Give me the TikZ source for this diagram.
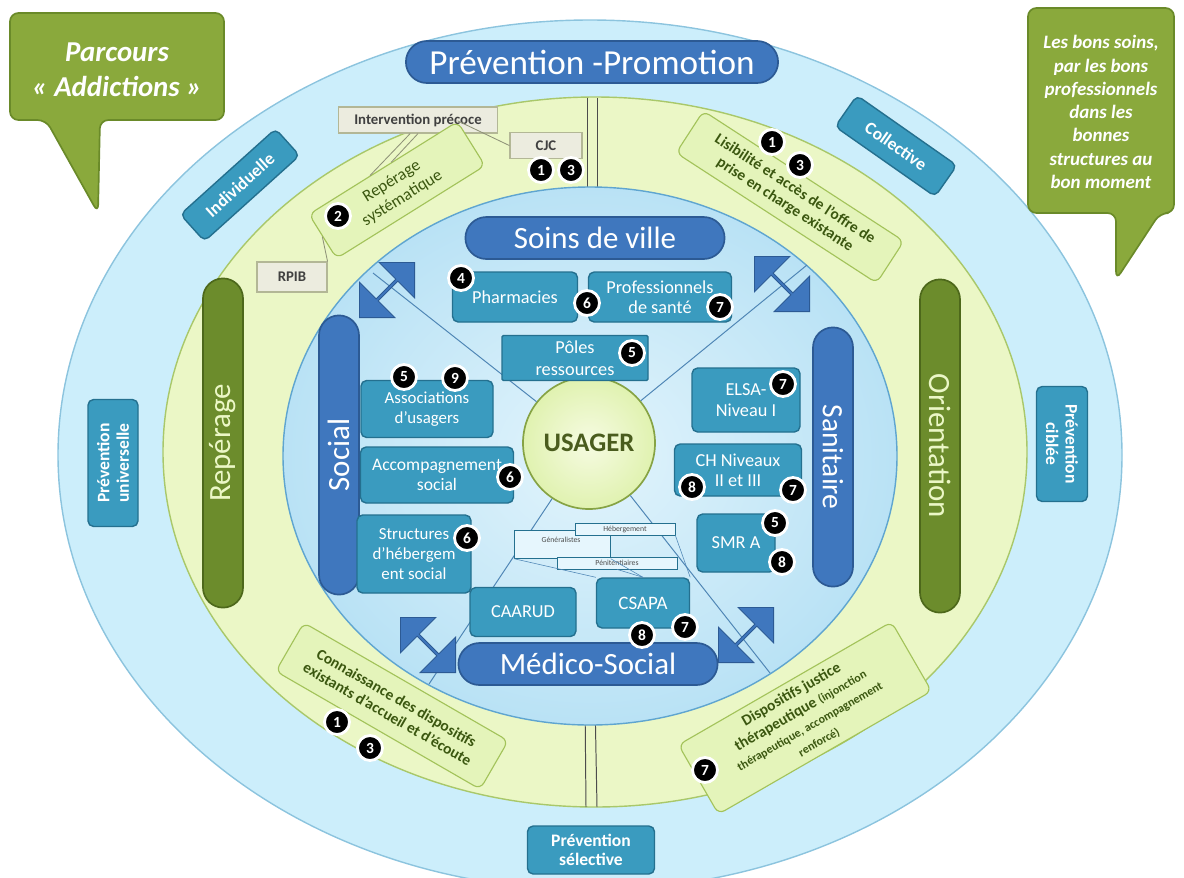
\documentclass[tikz,border=0pt]{standalone}
\usepackage{fontspec}
\setmainfont{Carlito}
\usetikzlibrary{shapes.misc,shapes.arrows}

\newcommand\pxl{0.025cm}

\definecolor{ringout}{HTML}{CCEEFB}
\definecolor{ringoutline}{HTML}{8CC4DE}
\definecolor{ringgreen}{HTML}{EBF7C6}
\definecolor{ringgreenline}{HTML}{A9C86A}
\definecolor{ringin}{HTML}{B9E2F5}
\definecolor{ringincentre}{HTML}{E2F4FC}
\definecolor{ringinline}{HTML}{5FA5D0}
\definecolor{pillblue}{HTML}{3F77BE}
\definecolor{pillline}{HTML}{2C5A94}
\definecolor{pillgreen}{HTML}{6C8C2C}
\definecolor{pillgreenline}{HTML}{4D681B}
\definecolor{tealfill}{HTML}{3A9BBF}
\definecolor{tealline}{HTML}{24708F}
\definecolor{tiltfill}{HTML}{E4F4BA}
\definecolor{tiltline}{HTML}{A3C35A}
\definecolor{tilttext}{HTML}{3B5710}
\definecolor{grayfill}{HTML}{ECECDF}
\definecolor{grayline}{HTML}{B3B796}
\definecolor{bubble}{HTML}{8AA93C}
\definecolor{bubbleline}{HTML}{6A8A29}
\definecolor{usagerfill}{HTML}{E0F2B0}
\definecolor{usagercentre}{HTML}{F6FBE2}
\definecolor{usagerline}{HTML}{86A344}
\definecolor{usagertext}{HTML}{4A5C1E}
\definecolor{smallfill}{HTML}{E6F6FD}
\definecolor{spokeline}{HTML}{4F86B5}

\tikzset{
  pill/.style={rounded rectangle, fill=pillblue, draw=pillline, line width=1.2pt, text=white, inner sep=1pt},
  greenpill/.style={pill, fill=pillgreen, draw=pillgreenline, text=ringgreen},
  tealbox/.style={rectangle, rounded corners=4pt, fill=tealfill, draw=tealline, line width=1pt, text=white, align=center, inner sep=1pt, font=\fontsize{13}{14.5}\selectfont},
  outerbox/.style={tealbox, font=\fontsize{12.5}{14}\selectfont\bfseries},
  tiltbox/.style={rectangle, rounded corners=5pt, fill=tiltfill, draw=tiltline, line width=0.8pt, text=tilttext, align=center, inner sep=1pt, font=\fontsize{11}{13}\selectfont\bfseries},
  graybox/.style={rectangle, fill=grayfill, draw=grayline, line width=0.8pt, text=black!75, inner sep=1pt, font=\fontsize{10.5}{12}\selectfont\bfseries},
  smallbox/.style={rectangle, fill=smallfill, draw=tealline, line width=0.5pt, text=black!70, inner sep=0pt, font=\fontsize{5.5}{6}\selectfont},
  badge/.style={circle, fill=black, draw=white, line width=2pt, text=white, inner sep=0pt, minimum size=25*\pxl, font=\fontsize{11}{11}\selectfont\bfseries},
  bubbletext/.style={text=white, align=center, font=\bfseries\itshape},
  spoke/.style={draw=spokeline, line width=0.7pt},
  grayconn/.style={draw=grayline!80!black, line width=0.6pt},
  sepline/.style={draw=black!70, line width=0.7pt},
  darrow/.style={double arrow, fill=pillblue, draw=pillline, line width=0.6pt, minimum height=78*\pxl, minimum width=50*\pxl, double arrow head extend=5pt, inner sep=0pt}
}

\begin{document}
\begin{tikzpicture}[x=\pxl,y=-\pxl]
\useasboundingbox (0,0) rectangle (1184,877);

% rings
\filldraw[fill=ringout, draw=ringoutline, line width=1pt] (590,455) ellipse [x radius=532, y radius=435];
\filldraw[fill=ringgreen, draw=ringgreenline, line width=1pt] (595,452) ellipse [x radius=432, y radius=355];
\draw[sepline] (587,98) -- (587,200);
\draw[sepline] (597,98) -- (597,200);
\draw[sepline] (585,700) -- (586,807);
\draw[sepline] (595,700) -- (597,807);
\shade[inner color=ringincentre, outer color=ringin] (590,456) ellipse [x radius=307, y radius=269];
\draw[draw=ringinline, line width=1pt] (590,456) ellipse [x radius=307, y radius=269];

% callouts
\filldraw[fill=bubble, draw=bubbleline, line width=1.2pt, rounded corners=6pt] (10,13) -- (224,13) -- (224,120) -- (100,120) -- (98,213) -- (46,120) -- (10,120) -- cycle;
\node[bubbletext, font=\fontsize{20.5}{25}\selectfont\bfseries\itshape] (parcours) at (117,70) {Parcours\\« Addictions »};
\filldraw[fill=bubble, draw=bubbleline, line width=1.2pt, rounded corners=6pt] (1028,8) -- (1174,8) -- (1174,213) -- (1160,213) -- (1116,280) -- (1116,213) -- (1028,213) -- cycle;
\node[bubbletext, font=\fontsize{13.5}{16.5}\selectfont\bfseries\itshape] (bonssoins) at (1101,112) {Les bons soins,\\par les bons\\professionnels\\dans les\\bonnes\\structures au\\bon moment};

% centre and spokes
\node[circle, inner color=usagercentre, outer color=usagerfill, draw=usagerline, line width=1.2pt, minimum size=132*\pxl, text=usagertext, font=\fontsize{19}{19}\selectfont\bfseries] (usager) at (589,443) {USAGER};
\coordinate (ulend) at (373,273);
\coordinate (urend) at (807,265);
\coordinate (llend) at (429,684);
\coordinate (lrend) at (770,673);
\foreach \e in {ulend,urend,llend,lrend}
  \draw[spoke] (usager) -- (\e);

\node[darrow, rotate=45] (ularrow) at (387,290) {};
\node[darrow, rotate=-45] (urarrow) at (782,284) {};
\node[darrow, rotate=-45] (llarrow) at (428,645) {};
\node[darrow, rotate=45] (lrarrow) at (746,635) {};

% big labels
\node[pill, minimum width=375*\pxl, minimum height=42*\pxl, font=\fontsize{25}{25}\selectfont] (prevprom) at (592,62) {Prévention -Promotion};
\node[pill, minimum width=262*\pxl, minimum height=42*\pxl, font=\fontsize{22}{22}\selectfont] (soins) at (595,238) {Soins de ville};
\node[pill, minimum width=262*\pxl, minimum height=42*\pxl, font=\fontsize{22}{22}\selectfont] (medico) at (588,664) {Médico-Social};
\node[pill, rotate=90, minimum width=282*\pxl, minimum height=40*\pxl, font=\fontsize{22}{22}\selectfont] (social) at (339,455) {Social};
\node[pill, rotate=-90, minimum width=262*\pxl, minimum height=40*\pxl, font=\fontsize{21}{21}\selectfont] (sanitaire) at (833,457) {Sanitaire};
\node[greenpill, rotate=90, minimum width=332*\pxl, minimum height=40*\pxl, font=\fontsize{22}{22}\selectfont] (reperage) at (223,443) {Repérage};
\node[greenpill, rotate=-90, minimum width=336*\pxl, minimum height=40*\pxl, font=\fontsize{22}{22}\selectfont] (orientation) at (940,446) {Orientation};

% structures
\node[tealbox, minimum width=125*\pxl, minimum height=50*\pxl] (pharma) at (515,297) {Pharmacies};
\node[tealbox, minimum width=143*\pxl, minimum height=50*\pxl] (prosante) at (660,297) {Professionnels\\de santé};
\node[tealbox, rounded corners=1pt, minimum width=146*\pxl, minimum height=45*\pxl, font=\fontsize{13}{15.5}\selectfont] (poles) at (575,358) {Pôles\\ressources};
\node[tealbox, minimum width=132*\pxl, minimum height=57*\pxl, font=\fontsize{12}{14}\selectfont] (assoc) at (427,409) {Associations\\d’usagers};
\node[tealbox, minimum width=153*\pxl, minimum height=56*\pxl, font=\fontsize{12.5}{14}\selectfont] (accomp) at (437,475) {Accompagnement\\social};
\node[tealbox, minimum width=114*\pxl, minimum height=78*\pxl, font=\fontsize{12}{14}\selectfont] (heberg) at (414,554) {Structures\\d’hébergem\\ent social};
\node[tealbox, minimum width=108*\pxl, minimum height=64*\pxl] (elsa) at (746,400) {ELSA-\\Niveau I};
\node[tealbox, minimum width=127*\pxl, minimum height=52*\pxl] (chniv) at (738,470) {CH Niveaux\\II et III};
\node[tealbox, minimum width=78*\pxl, minimum height=58*\pxl] (smra) at (736,543) {SMR A};
\node[tealbox, minimum width=106*\pxl, minimum height=49*\pxl] (caarud) at (523,612) {CAARUD};
\node[tealbox, minimum width=93*\pxl, minimum height=50*\pxl, font=\fontsize{13.5}{14}\selectfont] (csapa) at (643,603) {CSAPA};

% csapa sub-boxes
\node[smallbox, minimum width=96*\pxl, minimum height=28*\pxl, anchor=north west] (general) at (514,530) {};
\node[font=\fontsize{5.5}{6}\selectfont, text=black!70, inner sep=0pt] (generaltxt) at (561,540) {Généralistes};
\node[smallbox, minimum width=100*\pxl, minimum height=12*\pxl] (hebergsub) at (625,529) {Hébergement};
\node[smallbox, minimum width=120*\pxl, minimum height=12*\pxl] (penit) at (617,563) {Pénitentiaires};
\draw[spoke, line width=0.4pt] (general.south west) -- (csapa.north west);
\draw[spoke, line width=0.4pt] (general.south east) -- (csapa.north);
\draw[spoke, line width=0.4pt] (hebergsub.south east) -- (csapa.north east);
\draw[spoke, line width=0.4pt] (penit.south) -- (csapa.north);

% repérage side
\node[graybox, minimum width=159*\pxl, minimum height=26*\pxl] (interv) at (418,120) {Intervention précoce};
\node[graybox, minimum width=72*\pxl, minimum height=26*\pxl, anchor=north] (cjc) at (546,132) {CJC};
\node[graybox, minimum width=70*\pxl, minimum height=30*\pxl] (rpib) at (292,277) {RPIB};
\node[tiltbox, rotate=32, minimum width=175*\pxl, minimum height=52*\pxl, font=\fontsize{12}{14}\selectfont] (repsys) at (397,190) {Repérage\\systématique};
\draw[grayconn] (interv.240) -- (repsys.120);
\draw[grayconn] (interv.south) -- (repsys.70);
\draw[grayconn] (cjc.west) -- (repsys.north east);
\draw[grayconn] (rpib.north east) -- (repsys.west);

% ring labels
\node[tiltbox, rotate=-33, minimum width=239*\pxl, minimum height=50*\pxl] (lisib) at (790,197) {Lisibilité et accès de l’offre de\\prise en charge existante};
\node[tiltbox, rotate=-30, minimum width=236*\pxl, minimum height=56*\pxl] (connais) at (392,706) {Connaissance des dispositifs\\existants d’accueil et d’écoute};
\node[tiltbox, rotate=30, minimum width=246*\pxl, minimum height=80*\pxl] (justice) at (805,718) {Dispositifs justice\\thérapeutique {\fontsize{8.5}{10.5}\selectfont(injonction}\\{\fontsize{8.5}{10.5}\selectfont thérapeutique, accompagnement}\\{\fontsize{8.5}{10.5}\selectfont renforcé)}};

% prevention types
\node[outerbox, rotate=42, minimum width=128*\pxl, minimum height=36*\pxl] (indiv) at (240,185) {Individuelle};
\node[outerbox, rotate=-35, minimum width=122*\pxl, minimum height=38*\pxl] (collect) at (896,146) {Collective};
\node[outerbox, rotate=90, minimum width=127*\pxl, minimum height=50*\pxl] (prevuniv) at (113,463) {Prévention\\universelle};
\node[outerbox, rotate=-90, minimum width=115*\pxl, minimum height=51*\pxl] (prevcib) at (1062,444) {Prévention\\ciblée};
\node[outerbox, minimum width=127*\pxl, minimum height=48*\pxl] (prevsel) at (591,850) {Prévention\\sélective};

% numbered badges
\foreach \n/\x/\y [count=\k] in {1/541/170, 3/571/170, 2/338/216, 1/772/142, 3/800/165,
  4/461/278, 6/587/303, 7/720/307, 5/632/353, 5/404/377, 9/455/378, 6/510/477,
  6/467/538, 7/783/384, 8/692/487, 7/793/490, 5/775/523, 8/782/562, 8/642/635,
  7/685/627, 1/337/722, 3/370/748, 7/705/770}
  {\node[badge] (badge\k) at (\x,\y) {\n};}

\end{tikzpicture}
\end{document}
